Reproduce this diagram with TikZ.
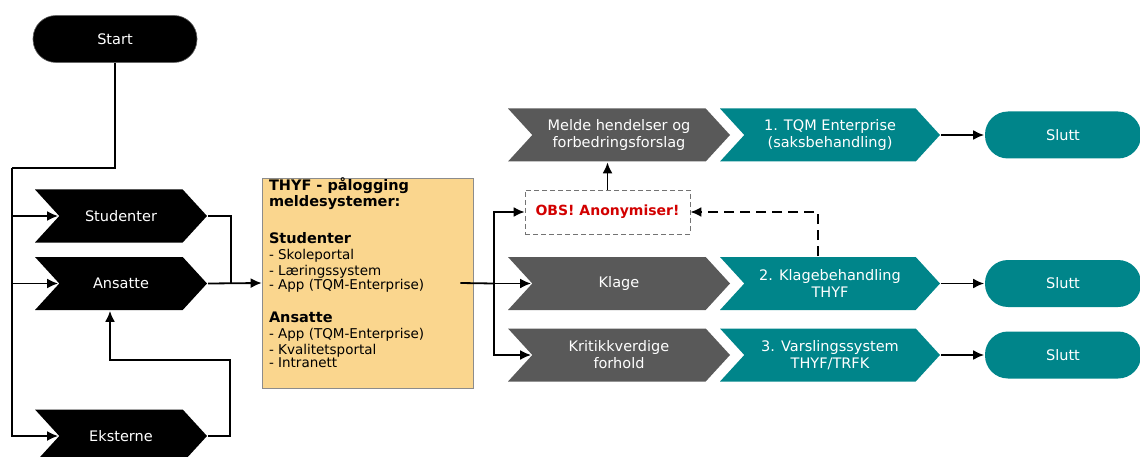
\documentclass[tikz,border=0pt]{standalone}
\usepackage{fontspec}
\setmainfont{DejaVu Sans}
\usetikzlibrary{shapes.symbols,arrows.meta}
\definecolor{teal}{RGB}{0,133,138}
\definecolor{mork}{RGB}{89,89,89}
\definecolor{sand}{RGB}{250,214,142}
\definecolor{obsrod}{RGB}{210,0,0}
\newcommand{\stor}{\fontsize{14.5}{17}\selectfont}
\newcommand{\liten}{\fontsize{13.5}{16}\selectfont}

\tikzset{
  pil/.style={shape=signal, signal from=west, signal to=east, signal pointer angle=95,
    inner sep=0pt, text=white, align=center, font=\stor, minimum height=53pt},
  svart/.style={pil, fill=black, minimum width=172pt},
  graa/.style={pil, fill=mork, minimum width=222pt},
  gronn/.style={pil, fill=teal, minimum width=220pt},
  ende/.style={rectangle, rounded corners=23pt, minimum height=47pt, text=white, font=\stor},
}

\begin{document}
\begin{tikzpicture}[x=1pt,y=-1pt,-{Latex[length=11pt,width=10pt]},line width=1.8pt]
  \useasboundingbox (0,0) rectangle (1140,457);

  % venstre del
  \node[ende, fill=black, draw=black!60, line width=0.6pt, minimum width=164pt] (start) at (115,39) {Start};
  \node[svart] (studenter) at (121,216) {Studenter};
  \node[svart] (ansatte) at (121,283.5) {Ansatte};
  \node[svart] (eksterne) at (121,436) {Eksterne};

  \node[draw=black!45, line width=0.6pt, fill=sand, inner xsep=7pt, inner ysep=0pt] (portal) at (367.5,283) {%
    \parbox[c][210pt][t]{197pt}{\raggedright
    {\stor\bfseries THYF - pålogging\\meldesystemer:}\\[21pt]
    {\liten{\stor\bfseries Studenter}\\- Skoleportal\\- Læringssystem\\- App (TQM-Enterprise)}\\[17pt]
    {\liten{\stor\bfseries Ansatte}\\- App (TQM-Enterprise)\\- Kvalitetsportal\\- Intranett}}};

  % midten og høyre
  \node[draw=black!55, dash pattern=on 5pt off 3pt, line width=0.8pt, minimum width=165pt, minimum height=44pt,
        text=obsrod, font=\fontsize{14}{16}\selectfont\bfseries] (obs) at (607.5,212) {OBS! Anonymiser!};
  \node[graa] (melde) at (619,135) {Melde hendelser og\\forbedringsforslag};
  \node[graa] (klage) at (619,283.5) {Klage};
  \node[graa] (kritikk) at (619,355) {Kritikkverdige\\forhold};
  \node[gronn] (tqm) at (830,135) {1. TQM Enterprise\\(saksbehandling)};
  \node[gronn] (klagebeh) at (830,283.5) {2. Klagebehandling\\THYF};
  \node[gronn] (varsling) at (830,355) {3. Varslingssystem\\THYF/TRFK};
  \node[ende, fill=teal, minimum width=156pt] (slutt1) at (1063,135) {Slutt};
  \node[ende, fill=teal, minimum width=156pt] (slutt2) at (1063,283.5) {Slutt};
  \node[ende, fill=teal, minimum width=156pt] (slutt3) at (1063,355) {Slutt};

  \coordinate (knekk) at (12,168);
  \coordinate (samle) at (231,283.5);
  \coordinate (retur) at (230,360);
  \coordinate (fordel) at (494,283.5);
  \coordinate (tilbake) at (818,213);

  \draw[-] (start.south) |- (knekk);
  \draw (knekk) |- (eksterne.west);
  \draw (knekk |- studenter.west) -- (studenter.west);
  \draw (knekk |- ansatte.west) -- (ansatte.west);
  \draw[-] (studenter.east) -| (samle);
  \draw (ansatte.east) -- (portal.west);
  \draw (eksterne.east) -| (retur) -| ([xshift=-11pt]ansatte.south);

  \draw[-] ([xshift=-13pt]portal.east) -- (fordel);
  \draw (fordel) -- (klage.west);
  \draw (fordel) |- (obs.west);
  \draw (fordel) |- (kritikk.west);
  \draw (obs.north) -- (obs.north |- melde.south);
  \draw[dash pattern=on 10pt off 6pt] (klagebeh.north -| tilbake) |- (obs.east);

  \draw (tqm.east) -- (slutt1.west);
  \draw (klagebeh.east) -- (slutt2.west);
  \draw (varsling.east) -- (slutt3.west);
\end{tikzpicture}
\end{document}
